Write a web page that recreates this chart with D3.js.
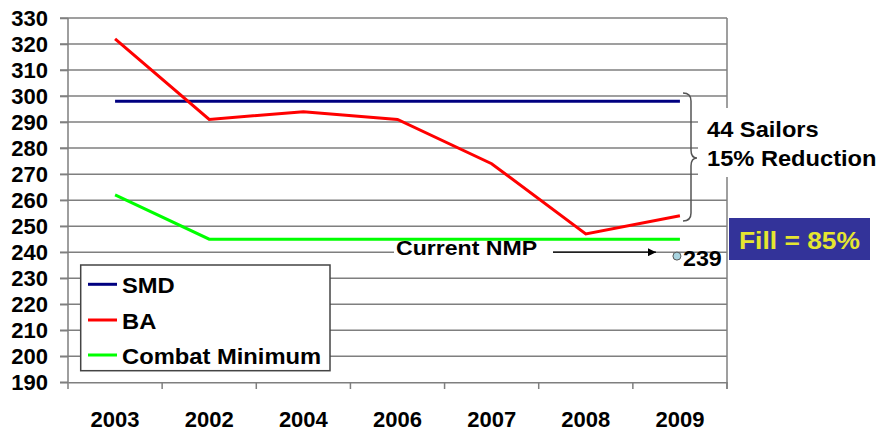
<!DOCTYPE html>
<html><head><meta charset="utf-8">
<script src="https://cdn.jsdelivr.net/npm/d3@7"></script>
<style>
html,body{margin:0;padding:0;background:#fff;}
svg{display:block;font-family:"Liberation Sans",Arial,sans-serif;font-weight:bold;}
</style></head>
<body><svg id="c" width="885" height="434"></svg>
<script>
const categories = ["2003","2002","2004","2006","2007","2008","2009"];
const smdValues = [298,298,298,298,298,298,298];
const baValues = [322,291,294,291,274,247,254];
const combatValues = [262,245,245,245,245,245,245];
const yTicks = [190,200,210,220,230,240,250,260,270,280,290,300,310,320,330];
const currentNmp = {category:"2009", value:238.5, label:"239"};
const seriesNames = ["SMD","BA","Combat Minimum"];
const seriesColors = ["#000080","#ff0000","#00ff00"];

const svg = d3.select("#c");
const L = 68, R = 727, T = 18, B = 382.3;
const x = d3.scaleBand().domain(categories).range([L, R]);
const y = d3.scaleLinear().domain([190, 330]).range([B, T]);
const cx = c => x(c) + x.bandwidth()/2;
const gridColor = "#7f7f7f";

function wideText(px, py, str, size, sx, anchor, fill) {
  return svg.append("text")
    .attr("transform", `translate(${px},${py}) scale(${sx},1)`)
    .attr("text-anchor", anchor || "start")
    .attr("font-size", size).attr("fill", fill || "#000").text(str);
}

// gridlines
svg.append("g").selectAll("line").data(yTicks.filter(v=>v>190)).join("line")
  .attr("x1", 60).attr("x2", R).attr("y1", d=>y(d)).attr("y2", d=>y(d))
  .attr("stroke", gridColor).attr("stroke-width", 1.5);

// right border
svg.append("line").attr("x1",R).attr("x2",R).attr("y1",T).attr("y2",389)
  .attr("stroke", gridColor).attr("stroke-width", 1.5);

// y axis
const yAxis = d3.axisLeft(y).tickValues(yTicks).tickSize(8).tickPadding(12);
const gy = svg.append("g").attr("transform", `translate(${L},0)`).call(yAxis);
gy.select(".domain").attr("stroke", gridColor).attr("stroke-width",1.5).attr("d", `M-8,${B}H0V${T}`);
gy.selectAll(".tick line").attr("stroke", gridColor).attr("stroke-width",1.5);
gy.selectAll(".tick text").attr("font-size", 22).attr("font-weight","bold")
  .attr("font-family","Liberation Sans, Arial, sans-serif").attr("fill","#000");

// x axis
const xAxis = d3.axisBottom(x).tickSize(0).tickPadding(29);
const gx = svg.append("g").attr("transform", `translate(0,${B})`).call(xAxis);
gx.select(".domain").attr("stroke", gridColor).attr("stroke-width",1.5);
gx.selectAll(".tick text").attr("font-size", 22).attr("font-weight","bold")
  .attr("font-family","Liberation Sans, Arial, sans-serif").attr("fill","#000");
// category boundary ticks
const bounds = categories.map(c=>x(c)).concat([R]);
svg.append("g").selectAll("line").data(bounds).join("line")
  .attr("x1", d=>d).attr("x2", d=>d).attr("y1", B).attr("y2", 389)
  .attr("stroke", gridColor).attr("stroke-width", 1.5);

// Current NMP label with white background over gridline
svg.append("rect").attr("x", 394).attr("y", 238).attr("width", 159).attr("height", 22).attr("fill","#fff");
wideText(396, 255, "Current NMP", 21, 1.1);

// arrow
svg.append("defs").append("marker").attr("id","ah").attr("viewBox","0 0 10 10")
  .attr("refX",10).attr("refY",5).attr("markerWidth",10).attr("markerHeight",8)
  .attr("markerUnits","userSpaceOnUse").attr("orient","auto")
  .append("path").attr("d","M0,0L10,5L0,10Z").attr("fill","#000");
svg.append("line").attr("x1", 553).attr("x2", 656).attr("y1", y(240)).attr("y2", y(240))
  .attr("stroke","#000").attr("stroke-width",1.2).attr("marker-end","url(#ah)");

// series lines
const line = d3.line().x((d,i)=>cx(categories[i])).y(d=>y(d));
[smdValues, baValues, combatValues].forEach((vals, k) => {
  svg.append("path").datum(vals).attr("d", line).attr("fill","none")
    .attr("stroke", seriesColors[k]).attr("stroke-width", 3);
});

// NMP point
svg.append("circle").attr("cx", cx(currentNmp.category) - 3).attr("cy", y(currentNmp.value))
  .attr("r", 4).attr("fill", "#a8d4e0").attr("stroke", "#555").attr("stroke-width", 1);
wideText(cx(currentNmp.category) + 3, 266, currentNmp.label, 22, 1.06);

// legend
svg.append("rect").attr("x", 80.7).attr("y", 265).attr("width", 249.3).attr("height", 105.7)
  .attr("fill","#fff").attr("stroke","#444").attr("stroke-width",1.5);
const legY = [284.3, 320, 355];
seriesNames.forEach((n,i)=>{
  svg.append("line").attr("x1",88).attr("x2",117).attr("y1",legY[i]).attr("y2",legY[i])
    .attr("stroke", seriesColors[i]).attr("stroke-width",3);
  wideText(122, legY[i]+9, n, 22, 1.08);
});

// brace annotation
svg.append("rect").attr("x", 698).attr("y", 108).attr("width", 187).attr("height", 69).attr("fill","#fff");
svg.append("path")
  .attr("d","M683,93 Q691,93 691,101 L691,150 Q691,158 697,158 Q691,158 691,166 L691,213 Q691,221 683,221")
  .attr("fill","none").attr("stroke","#555").attr("stroke-width",1.5);
wideText(707, 137, "44 Sailors", 21.5, 1.1);
wideText(707, 166, "15% Reduction", 21.5, 1.1);

// Fill box
svg.append("rect").attr("x", 729).attr("y", 218).attr("width", 141).attr("height", 42).attr("fill","#333399");
wideText(799.5, 249, "Fill = 85%", 24, 1.1, "middle", "#e5e530");
</script></body></html>
